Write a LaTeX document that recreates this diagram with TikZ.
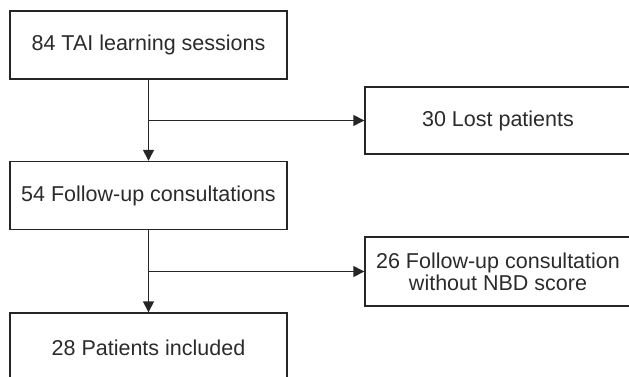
\documentclass[tikz,border=0pt]{standalone}
\usepackage{fontspec}
\setmainfont{Liberation Sans}
\usepackage{xcolor}
\definecolor{flowline}{HTML}{262626}
\definecolor{flowtext}{HTML}{2B2B2B}
\usetikzlibrary{positioning,arrows.meta,calc}

\begin{document}
\begin{tikzpicture}[
  x=1pt, y=1pt,
  mainbox/.style={rectangle, draw=flowline, line width=1.4pt, minimum width=277pt, minimum height=68pt,
              text centered, text=flowtext, font=\fontsize{21.5}{22}\selectfont},
  sidebox/.style={mainbox, minimum width=266pt, align=center},
  arrow/.style={-{Triangle[length=11pt,width=11pt]}, draw=flowline, line width=1.4pt},
]
\useasboundingbox (0,0) rectangle (629,-377);

% Main column
\node[mainbox] (sessions) at (148.5,-45) {84 TAI learning sessions};
\node[mainbox] (followup) at (148.5,-195.5) {54 Follow-up consultations};
\node[mainbox, minimum height=70pt] (included) at (148.5,-348) {28 Patients included};

% Excluded boxes
\node[sidebox, minimum height=67pt] (lost) at (498,-120.5) {30 Lost patients};
\node[sidebox, minimum height=69pt] (noscore) at (498,-271.5) {26 Follow-up consultation\\without NBD score};

% Flow arrows
\draw[arrow] (sessions.south) -- (followup.north);
\draw[arrow] (sessions.south |- lost.west) -- (lost.west);
\draw[arrow] (followup.south) -- (included.north);
\draw[arrow] (followup.south |- noscore.west) -- (noscore.west);

\end{tikzpicture}
\end{document}
